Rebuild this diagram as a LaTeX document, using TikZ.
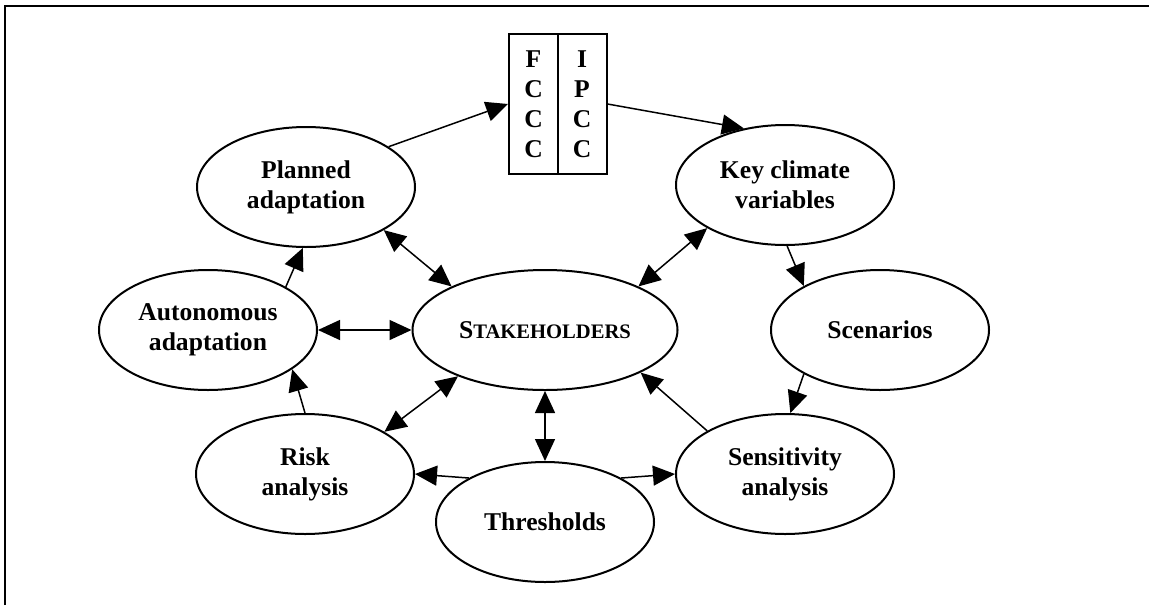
\documentclass[tikz,border=0pt]{standalone}
\usepackage{fontspec}
\setmainfont{Liberation Serif}
\usetikzlibrary{positioning,shapes.geometric,arrows.meta}
\tikzset{
  oval/.style={draw,ellipse,line width=1pt,minimum width=109pt,minimum height=60pt,inner sep=0pt,align=center,font=\bfseries\fontsize{12.8}{15}\selectfont},
  col/.style={draw,rectangle,line width=1pt,minimum width=24.5pt,minimum height=70pt,inner sep=0pt,align=center,font=\bfseries\fontsize{12.8}{15}\selectfont},
  link/.style={line width=0.75pt,-{Triangle[length=11pt,width=10pt]}},
  both/.style={line width=0.75pt,{Triangle[length=11pt,width=10pt]}-{Triangle[length=11pt,width=10pt]}}
}
\begin{document}
\begin{tikzpicture}[x=0.5pt,y=-0.5pt]
      \useasboundingbox (0,0) rectangle (1149,605);
      \draw[line width=1pt](5,605)--(5,5.5)--(1149,5.5);%frame
      \node[oval] (plan) at (306,187) {Planned\\adaptation};
      \node[oval] (auto) at (208,330) {Autonomous\\adaptation};
      \node[oval] (risk) at (305,474) {Risk\\analysis};
      \node[oval] (thr) at (545,522) {Thresholds};
      \node[oval] (sens) at (785,474) {Sensitivity\\analysis};
      \node[oval] (scen) at (880,330) {Scenarios};
      \node[oval] (key) at (785,185) {Key climate\\variables};
      \node[oval,minimum width=132.5pt] (stake) at (545,330) {S\fontsize{10.3}{15}\selectfont TAKEHOLDERS};
      \node[col] (fccc) at (533.5,104) {F\\C\\C\\C};
      \node[col] (ipcc) at (582,104) {I\\P\\C\\C};
      %cycle
      \draw[link] (plan.26)--(fccc.west);
      \draw[link] (ipcc.east)--(key.126);
      \draw[link] (key.-88)--(scen.150);
      \draw[link] (scen.210)--(sens.85);
      \draw[link] (sens.151)--(stake.-24);
      \draw[link] (thr.30)--(sens.180);
      \draw[link] (thr.150)--(risk.0);
      \draw[link] (risk.90)--(auto.-25);
      \draw[link] (auto.29)--(plan.-93);
      %stakeholders
      \draw[both] (auto.east)--(stake.west);
      \draw[both] (plan.-29)--(stake.155);
      \draw[both] (key.209)--(stake.25);
      \draw[both] (risk.28)--(stake.-152);
      \draw[both] (stake.south)--(thr.north);
    \end{tikzpicture}
\end{document}
